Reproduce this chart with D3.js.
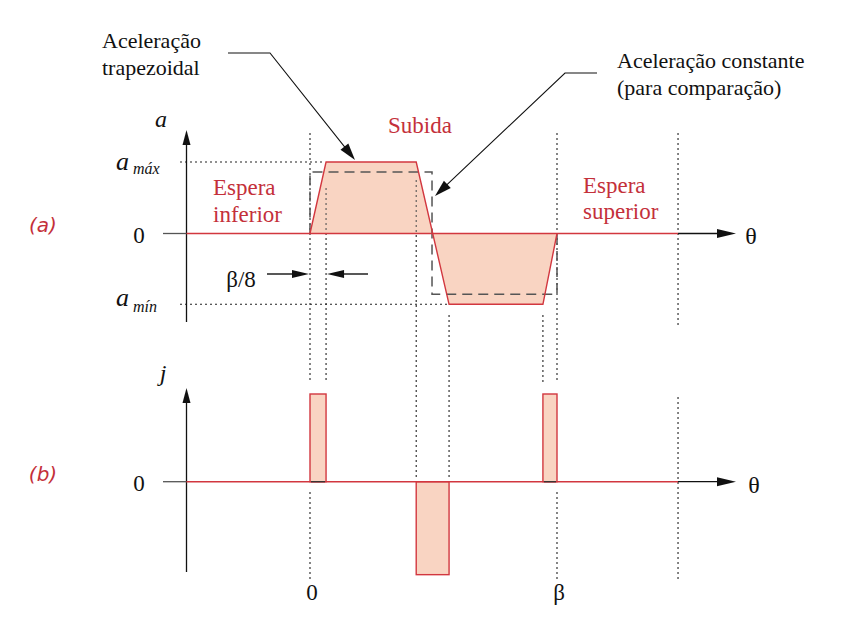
<!DOCTYPE html>
<html><head><meta charset="utf-8">
<script src="https://cdn.jsdelivr.net/npm/d3@7"></script>
</head>
<body style="margin:0">
<script>
// ---- data ----
const thetaExtent = [-0.5, 1.49];            // θ range of the axes (in units of β)
const trapTheta  = [0, 0.065, 0.43, 0.563, 0.943, 1];   // trapezoid break points
const trapAccel  = [0, 1, 1, -0.99, -0.99, 0];          // acceleration at break points
const constTheta = [0, 0, 0.494, 0.494, 1, 1];          // constant-acceleration comparison
const constAccel = [0, 0.86, 0.86, -0.85, -0.85, 0];
const jerkStart  = [0, 0.43, 0.943];
const jerkEnd    = [0.065, 0.563, 1];
const jerkValue  = [1, -1.06, 1];
const guideTheta = [0, 0.065, 0.43, 0.563, 0.943, 1, 1.49];
const thetaTickValues = [0, 1];
const thetaTickLabels = ["0", "β"];

const RED = "#d2373f", RED_TXT = "#c4303a", FILL = "#f9d4c2";
const SERIF = "Liberation Serif";

const W = 843, H = 628;
const svg = d3.select("body").append("svg").attr("width", W).attr("height", H)
  .style("display", "block");

const x  = d3.scaleLinear().domain([0, 1]).range([310, 557]);
const ya = d3.scaleLinear().domain([-1, 1]).range([305, 162]);
const yj = d3.scaleLinear().domain([0, 1]).range([481.7, 394]);

function head(tx, ty, ang, len = 16, wid = 9) {
  const bx = tx - len * Math.cos(ang), by = ty - len * Math.sin(ang);
  const px = -Math.sin(ang) * wid / 2, py = Math.cos(ang) * wid / 2;
  svg.append("path")
    .attr("d", `M${tx},${ty}L${bx + px},${by + py}L${bx - px},${by - py}Z`)
    .attr("fill", "#111");
}

// ---- dotted guides ----
const guideSegs = [
  [[133, 383], [492, 580]],
  [[188, 383]],
  [[180, 477]],
  [[315, 477]],
  [[315, 383]],
  [[133, 383], [492, 580]],
  [[133, 326], [397, 580]]
];
guideTheta.forEach((t, i) => {
  guideSegs[i].forEach(s => {
    svg.append("line").attr("x1", x(t)).attr("x2", x(t)).attr("y1", s[0]).attr("y2", s[1])
      .attr("stroke", "#222").attr("stroke-width", 1.1).attr("stroke-dasharray", "2,3");
  });
});

svg.append("line").attr("x1", 180).attr("x2", 322).attr("y1", ya(1)).attr("y2", ya(1))
  .attr("stroke", "#222").attr("stroke-width", 1.1).attr("stroke-dasharray", "2,3");
svg.append("line").attr("x1", 180).attr("x2", 447).attr("y1", ya(-0.99)).attr("y2", ya(-0.99))
  .attr("stroke", "#222").attr("stroke-width", 1.1).attr("stroke-dasharray", "2,3");

// ================= panel (a) =================
const trap = trapTheta.map((t, i) => [t, trapAccel[i]]);
const area = d3.area().x(d => x(d[0])).y0(ya(0)).y1(d => ya(d[1]));
svg.append("path").datum(trap).attr("d", area).attr("fill", FILL);

[[0.065, 188, 233], [0.43, 180, 233]].forEach(g => {
  svg.append("line").attr("x1", x(g[0])).attr("x2", x(g[0])).attr("y1", g[1]).attr("y2", g[2])
    .attr("stroke", "#555").attr("stroke-width", 1.1).attr("stroke-dasharray", "2,3");
});

const x0 = x(thetaExtent[0]), x1 = x(thetaExtent[1]);
svg.append("line").attr("x1", x0).attr("x2", x0).attr("y1", 322).attr("y2", 136)
  .attr("stroke", "#111").attr("stroke-width", 1.3);
head(x0, 130, -Math.PI / 2, 15, 8);
svg.append("line").attr("x1", 163).attr("x2", x0).attr("y1", ya(0)).attr("y2", ya(0))
  .attr("stroke", "#555").attr("stroke-width", 1.3);
svg.append("line").attr("x1", x1).attr("x2", 720).attr("y1", ya(0)).attr("y2", ya(0))
  .attr("stroke", "#111").attr("stroke-width", 1.3);
head(736, ya(0), 0, 19, 9);

const lineGen = d3.line().x(d => x(d[0])).y(d => ya(d[1]));
svg.append("path").datum(constTheta.map((t, i) => [t, constAccel[i]])).attr("d", lineGen)
  .attr("fill", "none").attr("stroke", "#555").attr("stroke-width", 1.5).attr("stroke-dasharray", "10,6");

svg.append("line").attr("x1", x0).attr("x2", x1).attr("y1", ya(0)).attr("y2", ya(0))
  .attr("stroke", RED).attr("stroke-width", 1.4);
svg.append("path").datum(trap).attr("d", lineGen)
  .attr("fill", "none").attr("stroke", RED).attr("stroke-width", 1.4);

// ================= panel (b) =================
jerkStart.forEach((s, i) => {
  const top = Math.min(yj(0), yj(jerkValue[i])), h = Math.abs(yj(jerkValue[i]) - yj(0));
  svg.append("rect").attr("x", x(s)).attr("y", top).attr("width", x(jerkEnd[i]) - x(s)).attr("height", h)
    .attr("fill", FILL).attr("stroke", RED).attr("stroke-width", 1.4);
});
svg.append("line").attr("x1", x0).attr("x2", x0).attr("y1", 572).attr("y2", 394)
  .attr("stroke", "#111").attr("stroke-width", 1.3);
head(x0, 388, -Math.PI / 2, 15, 8);
svg.append("line").attr("x1", 163).attr("x2", x0).attr("y1", yj(0)).attr("y2", yj(0))
  .attr("stroke", "#555").attr("stroke-width", 1.3);
svg.append("line").attr("x1", x0).attr("x2", x1).attr("y1", yj(0)).attr("y2", yj(0))
  .attr("stroke", RED).attr("stroke-width", 1.4);
jerkStart.forEach((s, i) => {
  if (jerkValue[i] > 0) svg.append("line").attr("x1", x(s) + 1).attr("x2", x(jerkEnd[i]) - 1)
    .attr("y1", yj(0)).attr("y2", yj(0)).attr("stroke", "#333").attr("stroke-width", 1.3);
});
svg.append("line").attr("x1", x1).attr("x2", 720).attr("y1", yj(0)).attr("y2", yj(0))
  .attr("stroke", "#111").attr("stroke-width", 1.3);
head(736, yj(0), 0, 19, 9);

// ================= labels =================
function txt(xp, yp, s, size, opts = {}) {
  const fam = opts.family || SERIF;
  const t = svg.append("text").attr("x", xp).attr("y", yp).attr("font-size", size)
    .attr("font-family", fam).style("font-family", "'" + fam + "'")
    .attr("fill", opts.fill || "#111").attr("text-anchor", opts.anchor || "start").text(s);
  if (opts.italic) t.attr("font-style", "italic");
  return t;
}
thetaTickValues.forEach((t, i) => {
  txt(x(t) + 2, 600, thetaTickLabels[i], 23, {anchor: "middle"});
});
txt(751, 244, "θ", 24, {anchor: "middle"});
txt(754, 493, "θ", 24, {anchor: "middle"});
txt(139, 243, "0", 23, {anchor: "middle"});
txt(139, 491, "0", 23, {anchor: "middle"});
txt(161, 127, "a", 24, {anchor: "middle", italic: true});
txt(163, 381, "j", 24, {anchor: "middle", italic: true});

const amax = txt(116, 170, "a", 26, {italic: true});
amax.append("tspan").attr("dy", 4).attr("dx", 4).attr("font-size", 16).text("máx");
const amin = txt(116, 306, "a", 26, {italic: true});
amin.append("tspan").attr("dy", 6).attr("dx", 4).attr("font-size", 16).text("mín");

txt(43, 232, "(a)", 20, {anchor: "middle", italic: true, fill: "#c4303a", family: "DejaVu Sans"});
txt(43, 481, "(b)", 20, {anchor: "middle", italic: true, fill: "#c4303a", family: "DejaVu Sans"});

txt(420, 133, "Subida", 23, {anchor: "middle", fill: RED_TXT});
txt(213, 195, "Espera", 23, {fill: RED_TXT});
txt(213, 222, "inferior", 23, {fill: RED_TXT});
txt(583, 193, "Espera", 23, {fill: RED_TXT});
txt(583, 219, "superior", 23, {fill: RED_TXT});

txt(241, 287, "β/8", 23, {anchor: "middle"});
svg.append("line").attr("x1", 267).attr("x2", 295).attr("y1", 274).attr("y2", 274).attr("stroke", "#111").attr("stroke-width", 1.4);
head(x(0) - 1, 274, 0, 17, 8);
svg.append("line").attr("x1", 341).attr("x2", 368).attr("y1", 274).attr("y2", 274).attr("stroke", "#111").attr("stroke-width", 1.4);
head(x(0.065) + 1, 274, Math.PI, 17, 8);

txt(102, 48, "Aceleração", 22);
txt(102, 75, "trapezoidal", 22);
txt(617, 68, "Aceleração constante", 22);
txt(617, 95, "(para comparação)", 22);

function leader(pts) {
  const n = pts.length;
  const [ax, ay] = pts[n - 2], [bx, by] = pts[n - 1];
  const ang = Math.atan2(by - ay, bx - ax);
  const line = pts.slice(0, n - 1).concat([[bx - 10 * Math.cos(ang), by - 10 * Math.sin(ang)]]);
  svg.append("path").attr("d", d3.line()(line)).attr("fill", "none").attr("stroke", "#111").attr("stroke-width", 1.1);
  head(bx, by, ang, 17, 10);
}
leader([[228, 53], [270, 53], [355, 160]]);
leader([[597, 73], [565, 73], [435, 196]]);
</script>
</body></html>
